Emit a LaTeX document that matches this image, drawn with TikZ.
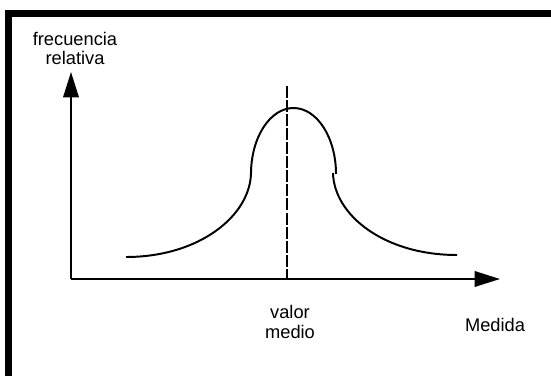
\documentclass[tikz,border=0pt]{standalone}
\usepackage{fontspec}
\setmainfont{Liberation Sans}
\usetikzlibrary{arrows.meta}
\tikzset{
  achse/.style={line width=1.4pt, -{Triangle[length=18pt,width=11pt]}},
  kurve/.style={line width=1.4pt},
  mitte/.style={line width=1.4pt, dash pattern=on 8.5pt off 1.5pt},
  beschr/.style={font=\fontsize{13}{14.2}\selectfont, inner sep=0pt, align=center}
}
\begin{document}
\begin{tikzpicture}[x=0.025cm,y=0.025cm]
        \useasboundingbox (0,0) rectangle (551,376);
        % Rahmen
        \draw [line width=5pt] (8.5,0) -- (8.5,362.5) -- (551,362.5);
        % Achsen
        \coordinate (O) at (71,97);
        \coordinate (ytip) at (71,304);
        \coordinate (xtip) at (500,97);
        \draw [achse] (O) -- (ytip);
        \draw [achse] (O) -- (xtip);
        % Mittelwert
        \coordinate (mtop) at (287,290);
        \coordinate (mfuss) at (287,97);
        \draw [mitte] (mtop) -- (mfuss);
        % Kurve
        \draw [kurve] (126,119) .. controls (200,119) and (251,161) .. (251,204);
        \draw [kurve] (251,202) arc [start angle=180, end angle=0, x radius=42.5, y radius=66];
        \draw [kurve] (333,203) .. controls (334,161) and (384,121) .. (457,121);
        % Beschriftung
        \node [beschr, anchor=base] (frec) at (75,311) {frecuencia\\relativa};
        \node [beschr, anchor=base] (valor) at (290,38) {valor\\medio};
        \node [beschr, anchor=base] (medida) at (495,45) {Medida};
\end{tikzpicture}
\end{document}
